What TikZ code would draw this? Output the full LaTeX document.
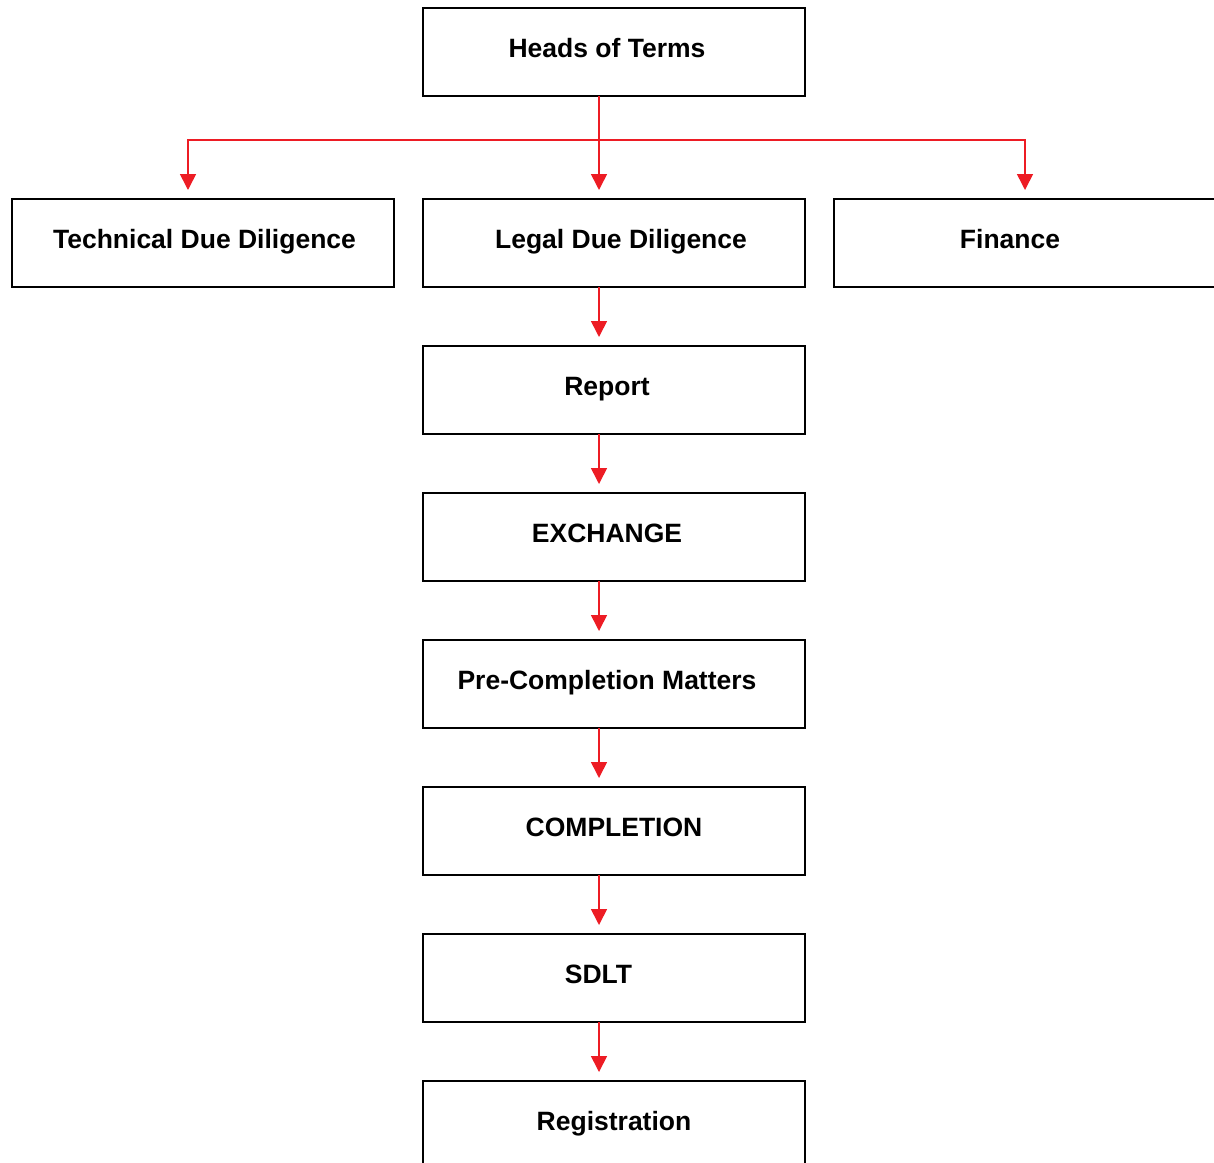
\documentclass[tikz,border=0pt]{standalone}
\usepackage{fontspec}
\setmainfont{Liberation Sans}
\usepackage{xcolor}
\usepackage{tikz}
\usetikzlibrary{positioning,arrows.meta,calc}
\definecolor{flowred}{HTML}{ED1C24}
% text sits a little off centre in some boxes
\newcommand{\nudge}[1]{\hspace*{#1}}

\begin{document}
\begin{tikzpicture}[
  x=1pt, y=1pt,
  every node/.style={font=\fontsize{26.5}{30}\selectfont\bfseries},
  stage/.style={draw, line width=2.2pt, fill=white,
                minimum width=382pt, minimum height=88pt,
                inner sep=0pt, outer sep=0pt,
                text height=18pt, text depth=8pt},
  arr/.style  ={flowred, line width=1.6pt, shorten >=9pt,
                -{Triangle[width=16pt,length=16pt]}},
  node distance=59pt
]
\useasboundingbox (0,0) rectangle (1214,-1162);

\node[stage] (heads) at (614,-52) {\nudge{-14pt}Heads of Terms};

\node[stage, below=103pt of heads] (legal) {\nudge{14pt}Legal Due Diligence};
\node[stage, left=29pt of legal]  (tech)    {\nudge{3pt}Technical Due Diligence};
\node[stage, right=29pt of legal] (finance) {\nudge{-30pt}Finance};

\node[stage, below=of legal]   (report) {\nudge{-14pt}Report};
\node[stage, below=of report]  (exch)   {\nudge{-14pt}EXCHANGE};
\node[stage, below=of exch]    (precomp){\nudge{-14pt}Pre-Completion Matters};
\node[stage, below=of precomp] (comp)   {COMPLETION};
\node[stage, below=of comp]    (sdlt)   {\nudge{-31pt}SDLT};
\node[stage, below=of sdlt]    (reg)    {Registration};

% split from the heads box
\coordinate (split) at ([xshift=-15pt,yshift=-44pt]heads.south);
\draw[arr] ([xshift=-15pt]heads.south) -- ([xshift=-15pt]legal.north);
\draw[arr] (split) -| ([xshift=-15pt]tech.north);
\draw[arr] (split) -| (finance.north);

% main line
\foreach \a/\b in {legal/report, report/exch, exch/precomp,
                   precomp/comp, comp/sdlt, sdlt/reg}
  \draw[arr] ([xshift=-15pt]\a.south) -- ([xshift=-15pt]\b.north);

\end{tikzpicture}
\end{document}
